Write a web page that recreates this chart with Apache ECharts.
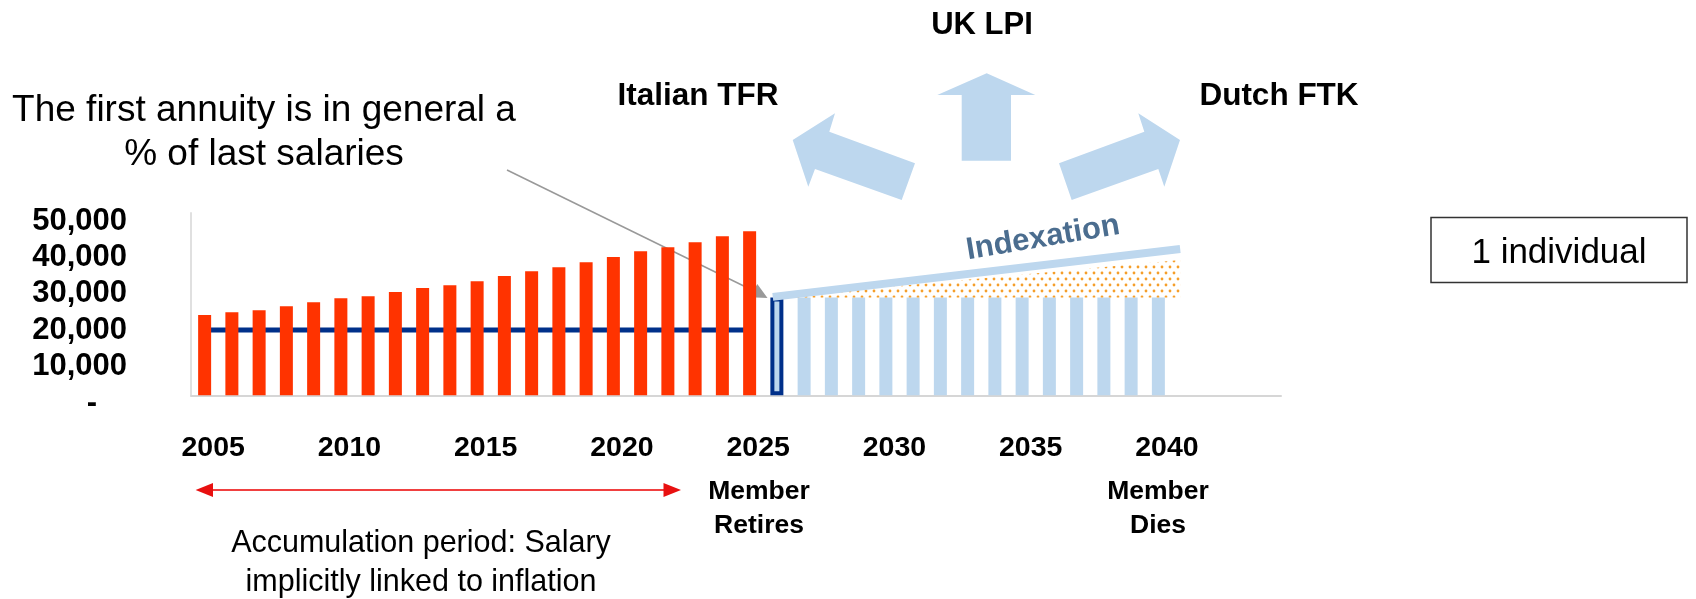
<!DOCTYPE html>
<html>
<head>
<meta charset="utf-8">
<script src="https://cdn.jsdelivr.net/npm/echarts@6/dist/echarts.min.js"></script>
<style>
  html, body { margin: 0; padding: 0; background: #fff; }
  #chart { width: 1696px; height: 599px; }
</style>
</head>
<body>
<div id="chart"></div>
<script>
// x categories (one per year, the axis runs a few years past the last bar)
const years = ['2005', '2006', '2007', '2008', '2009', '2010', '2011', '2012', '2013', '2014',
  '2015', '2016', '2017', '2018', '2019', '2020', '2021', '2022', '2023', '2024',
  '2025', '2026', '2027', '2028', '2029', '2030', '2031', '2032', '2033', '2034',
  '2035', '2036', '2037', '2038', '2039', '2040', '2041', '2042', '2043', '2044']

// salary during accumulation, 2005 - 2025
const salary = [22000, 22800, 23300, 24400, 25500, 26600, 27200, 28300, 29400, 30200,
  31300, 32700, 34000, 35100, 36500, 37900, 39500, 40600, 42000, 43600, 45000]

// flat line under the salaries, 2005 - 2025
const baseSalary = [17900, 17900, 17900, 17900, 17900, 17900, 17900, 17900, 17900, 17900,
  17900, 17900, 17900, 17900, 17900, 17900, 17900, 17900, 17900, 17900, 17900]

// annuity paid, 2026 - 2040 (first one is the outlined bar)
const annuity = [26800, 26800, 26800, 26800, 26800, 26800, 26800, 26800, 26800, 26800,
  26800, 26800, 26800, 26800, 26800]

// indexation line and the dotted gain below it (year, value)
const indexation = [[2025.85, 27000], [2040.8, 40100]]
const indexGain = [[2026.4, 26800], [2026.4, 27200], [2040.8, 37100], [2040.8, 26800]]

const yTicks = [0, 10000, 20000, 30000, 40000, 50000]

const FONT = '"Liberation Sans", Arial, sans-serif'
const BLUE = '#bdd7ee'
const NAVY = '#00308a'

const chart = echarts.init(document.getElementById('chart'))

// dotted orange fill
const pat = document.createElement('canvas')
pat.width = 8
pat.height = 12
const pctx = pat.getContext('2d')
pctx.fillStyle = '#f59e2a'
pctx.beginPath(); pctx.arc(2, 3, 1.4, 0, Math.PI * 2); pctx.fill()
pctx.beginPath(); pctx.arc(6, 9, 1.4, 0, Math.PI * 2); pctx.fill()

const redData = years.map((y, i) => i < salary.length ? salary[i] : '-')
const blueData = years.map((y, i) => {
  const k = i - salary.length
  if (k < 0 || k >= annuity.length) return '-'
  if (k === 0) {
    return { value: annuity[k], itemStyle: { borderColor: NAVY, borderWidth: 4 } }
  }
  return annuity[k]
})
const lineData = years.map((y, i) => i < baseSalary.length ? baseSalary[i] : null)

const txt = (x, y, text, size, weight, lh, extra) => Object.assign({
  type: 'text', x: x, y: y, silent: true,
  style: {
    text: text, fill: '#000', font: `${weight} ${size}px ${FONT}`, lineHeight: lh || size,
    align: 'center', verticalAlign: 'middle', textAlign: 'center', textVerticalAlign: 'middle'
  }
}, extra || {})

const poly = (points, fill) => ({ type: 'polygon', silent: true, shape: { points: points }, style: { fill: fill } })

const options = {
  animation: false,
  textStyle: { fontFamily: FONT },
  grid: { left: 191, right: 415, top: 213, bottom: 203.7 },
  xAxis: [
    {
      type: 'category',
      data: years,
      boundaryGap: true,
      axisLine: { lineStyle: { color: '#d6d6d6', width: 2 } },
      axisTick: { show: false },
      axisLabel: {
        interval: 4,
        margin: 38,
        color: '#000',
        fontSize: 28.5,
        fontWeight: 'bold',
        padding: [0, 0, 0, 17]
      }
    },
    { type: 'value', min: 2004.5, max: 2044.5, show: false }
  ],
  yAxis: {
    type: 'value',
    min: yTicks[0],
    max: yTicks[yTicks.length - 1],
    interval: 10000,
    splitLine: { show: false },
    axisTick: { show: false },
    axisLine: { show: true, lineStyle: { color: '#e0e0e0', width: 2 } },
    axisLabel: {
      margin: 64,
      color: '#000',
      fontSize: 31,
      fontWeight: 'bold',
      padding: [16, 0, 0, 0],
      formatter: v => v === 0 ? '{d|-}' : v.toLocaleString('en-US'),
      rich: { d: { fontSize: 31, fontWeight: 'bold', color: '#000', padding: [0, 30, 0, 0] } }
    }
  },
  series: [
    {
      type: 'line', xAxisIndex: 0, data: lineData, z: 1, silent: true,
      symbol: 'none', lineStyle: { color: NAVY, width: 5 }
    },
    {
      type: 'bar', xAxisIndex: 0, data: redData, barWidth: 13, barGap: '-100%', z: 2,
      itemStyle: { color: '#ff3300' }, silent: true
    },
    {
      type: 'bar', xAxisIndex: 0, data: blueData, barWidth: 13, barGap: '-100%', z: 2,
      itemStyle: { color: BLUE }, silent: true
    },
    {
      type: 'custom', xAxisIndex: 1, data: indexGain, z: 3, silent: true,
      renderItem: (params, api) => {
        if (params.dataIndex !== 0) return null
        return {
          type: 'polygon',
          shape: { points: indexGain.map(p => api.coord(p)) },
          style: { fill: { image: pat, repeat: 'repeat' } }
        }
      }
    },
    {
      type: 'line', xAxisIndex: 1, data: indexation, z: 4, silent: true,
      symbol: 'none', lineStyle: { color: BLUE, width: 8, cap: 'butt' }
    }
  ],
  graphic: [
    // the three big arrows
    poly([[986.7, 73.3], [1035.3, 95], [1011, 95], [1011, 160.7], [961.7, 160.7], [961.7, 95], [937.3, 95]], BLUE),
    poly([[792.7, 140], [835, 113.3], [829.3, 131.7], [915, 163.3], [901.7, 200], [815, 169], [808.3, 186.7]], BLUE),
    poly([[1180, 140], [1138.3, 113.3], [1144.3, 131.7], [1059, 163.3], [1071.7, 200], [1158.3, 169], [1164.3, 186.7]], BLUE),

    txt(982, 25, 'UK LPI', 31, 'bold'),
    txt(698, 96, 'Italian TFR', 31.5, 'bold'),
    txt(1279, 96, 'Dutch FTK', 31.5, 'bold'),
    txt(264, 133, 'The first annuity is in general a\n% of last salaries', 37, 'normal', 44),

    // grey pointer to the first annuity
    { type: 'line', silent: true, shape: { x1: 507, y1: 170, x2: 754, y2: 291 }, style: { stroke: '#999', lineWidth: 1.5 } },
    poly([[767.5, 298], [750, 297.3], [757.3, 284]], '#999'),

    txt(1043, 238, 'Indexation', 31, 'bold', 31, {
      rotation: 9.5 * Math.PI / 180,
      style: { text: 'Indexation', fill: '#4b6d8f', font: `bold 31px ${FONT}`,
        align: 'center', verticalAlign: 'middle', textAlign: 'center', textVerticalAlign: 'middle' }
    }),

    // 1 individual box
    { type: 'rect', silent: true, shape: { x: 1431, y: 217.5, width: 256, height: 65 },
      style: { fill: '#fff', stroke: '#333', lineWidth: 1.5 } },
    txt(1559, 253, '1 individual', 35, 'normal'),

    // red accumulation arrow
    { type: 'line', silent: true, shape: { x1: 210, y1: 490, x2: 667, y2: 490 }, style: { stroke: '#f04040', lineWidth: 2 } },
    poly([[195.6, 490], [213, 483], [213, 497]], '#e81010'),
    poly([[681, 490], [663.5, 483], [663.5, 497]], '#e81010'),

    txt(759, 509, 'Member\nRetires', 26.5, 'bold', 34),
    txt(1158, 509, 'Member\nDies', 26.5, 'bold', 34),
    txt(421, 563, 'Accumulation period: Salary\nimplicitly linked to inflation', 30.5, 'normal', 39)
  ]
}

chart.setOption(options)
</script>
</body>
</html>
